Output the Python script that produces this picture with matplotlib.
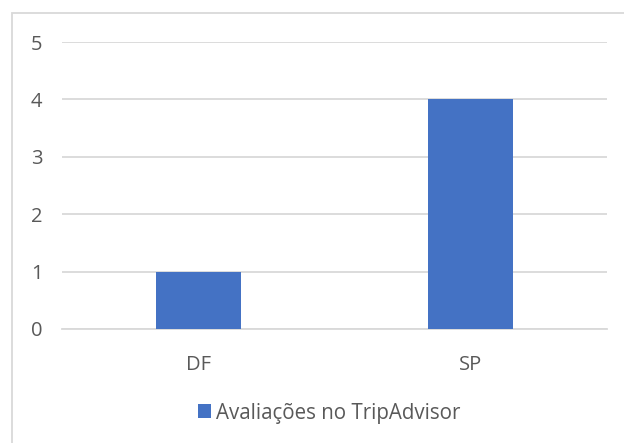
import matplotlib.pyplot as plt
from matplotlib.patches import Rectangle

categories = ['DF', 'SP']
values = [1, 4]
series_name = 'Avaliações no TripAdvisor'
yticks = [0, 1, 2, 3, 4, 5]

plt.rcParams['font.family'] = ['Open Sans', 'DejaVu Sans']
text_color = '#595959'
grid_color = '#D9D9D9'
bar_color = '#4472C4'

fig = plt.figure(figsize=(6.24, 4.43), dpi=100)
ax = fig.add_axes([62 / 624, 1 - 329 / 443, (607 - 62) / 624, (329 - 42) / 443])

x = range(len(categories))
ax.bar(x, values, width=0.313, color=bar_color, label=series_name, zorder=3)

ax.set_xlim(-0.5, len(categories) - 0.5)
ax.set_ylim(0, 5)
ax.set_yticks(yticks)
ax.set_xticks(list(x))
ax.set_xticklabels(categories)
ax.yaxis.grid(True, color=grid_color, linewidth=1.3, zorder=0)
ax.set_axisbelow(True)
for side in ['top', 'right', 'left']:
    ax.spines[side].set_visible(False)
ax.spines['bottom'].set_color(grid_color)
ax.spines['bottom'].set_linewidth(1.3)
ax.tick_params(axis='y', length=0, pad=14, labelsize=14.5, labelcolor=text_color)
ax.tick_params(axis='x', length=0, pad=19, labelsize=14.5, labelcolor=text_color)

leg = fig.legend(loc='center', bbox_to_anchor=(329 / 624, 1 - 413 / 443), frameon=False,
                 fontsize=14.8, handlelength=0.65, handleheight=0.65, handletextpad=0.25)
for t in leg.get_texts():
    t.set_color(text_color)

# chart border (cropped at right and bottom)
fig.patches.append(Rectangle((12 / 624, -0.1), 1.1, 1 - 13 / 443 + 0.1, transform=fig.transFigure,
                             fill=False, edgecolor=grid_color, linewidth=1.3))

fig.savefig('out.png', dpi=100)
